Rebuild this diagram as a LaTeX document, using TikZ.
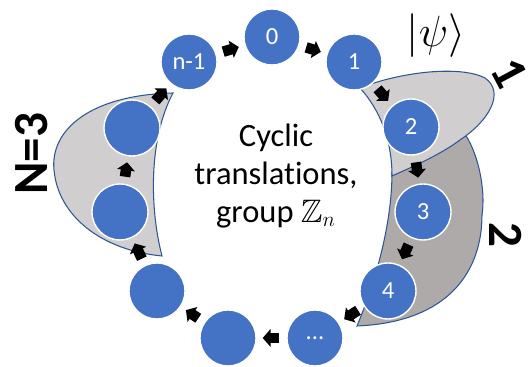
\documentclass[tikz,border=0pt]{standalone}
\usepackage{fontspec}
\setmainfont{Carlito}[Ligatures=NoCommon]
\usepackage{amssymb}
\usetikzlibrary{arrows.meta}

\definecolor{siteblue}{HTML}{4472C4}
\definecolor{edgeblue}{HTML}{2F5597}
\definecolor{lightgrp}{HTML}{D0CECE}
\definecolor{darkgrp}{HTML}{AEAAAA}

\begin{document}
\begin{tikzpicture}[x=0.02cm,y=-0.02cm,line width=0.6pt,>={Triangle[length=4.5pt,width=10pt]},
  site/.style={circle,fill=siteblue,draw=white,line width=0.8pt,minimum size=1.12cm,inner sep=0pt,
    text=white,font=\fontsize{14}{16}\selectfont},
  hop/.style={->,line width=6pt,shorten <=0.14cm,shorten >=0.12cm},
  tag/.style={font=\fontsize{28}{30}\selectfont\bfseries,inner sep=0pt}]
  \useasboundingbox (0,0) rectangle (532,367);
  % blocks of the chain
  \filldraw[fill=darkgrp,draw=edgeblue] (392,172) -- (462,130) .. controls (478,150) and (486,190) .. (482,215)
    .. controls (482,270) and (450,322) .. (357,326) .. controls (372,290) and (392,230) .. (392,172) -- cycle;
  \filldraw[fill=lightgrp,draw=edgeblue] (360,88) .. controls (400,72) and (460,65) .. (485,78)
    .. controls (505,92) and (490,120) .. (460,140) .. controls (440,155) and (410,168) .. (392,176)
    .. controls (392,140) and (380,110) .. (360,88) -- cycle;
  \filldraw[fill=lightgrp,draw=edgeblue] (173,93) .. controls (90,95) and (50,130) .. (54,170)
    .. controls (58,215) and (100,250) .. (162,256) .. controls (150,210) and (148,140) .. (173,93) -- cycle;
  % the ring of sites
  \node[site] (s0) at (272,37) {0};
  \node[site] (s1) at (354,62) {1};
  \node[site] (s2) at (411,127) {2};
  \node[site] (s3) at (423,212) {3};
  \node[site] (s4) at (388,291) {4};
  \node[site] (s5) at (315,338) {...};
  \node[site] (s6) at (228,338) {};
  \node[site] (s7) at (157,291) {};
  \node[site] (s8) at (120,212) {};
  \node[site] (s9) at (132,128) {};
  \node[site] (sn) at (189,62) {n-1};
  \foreach \a/\b in {sn/s0,s0/s1,s1/s2,s2/s3,s3/s4,s4/s5,s5/s6,s6/s7,s7/s8,s8/s9,s9/sn}
    \draw[hop] (\a) -- (\b);
  % labels
  \node[align=center,font=\fontsize{18.5}{21.5}\selectfont] (title) at (276,176)
    {Cyclic\\translations,\\group $\mathbb{Z}_n$};
  \node[font=\fontsize{26}{30}\selectfont] (psi) at (436,36) {$|\psi\rangle$};
  \node[tag,rotate=-62] (one) at (509,73) {1};
  \node[tag,rotate=-90] (two) at (506,235) {2};
  \node[tag,rotate=90] (blk) at (32,154) {N=3};
\end{tikzpicture}
\end{document}
